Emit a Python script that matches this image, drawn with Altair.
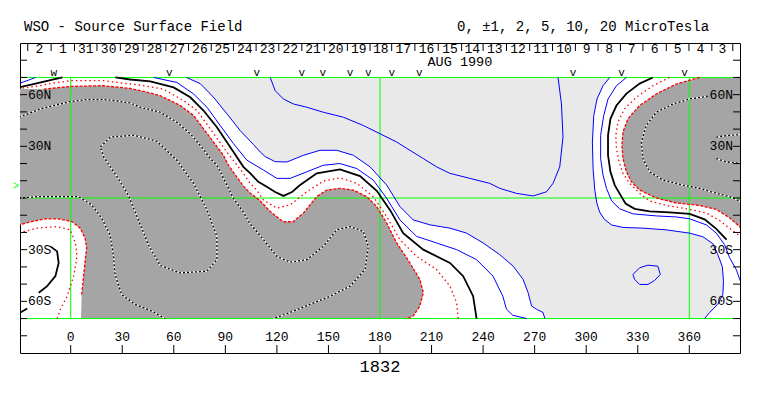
import altair as alt
import pandas as pd

# ---------------- text / axis data ----------------
TITLE_LEFT = "WSO - Source Surface Field"
TITLE_RIGHT = "0, \u00b11, 2, 5, 10, 20 MicroTesla"
ROTATION = "1832"
MONTH_LABEL = "AUG 1990"
MONTH_LON = 226.5

LON_TICKS = [0, 30, 60, 90, 120, 150, 180, 210, 240, 270, 300, 330, 360]
LAT_TICKS = [-80, -70, -60, -50, -40, -30, -20, -10, 0, 10, 20, 30, 40, 50, 60, 70, 80]
LAT_LABEL_VALUES = [60, 30, -30, -60]
LAT_LABEL_TEXT = ["60N", "30N", "30S", "60S"]
GREEN_LATS = [70, 0, -70]
GREEN_LONS = [0, 180, 360]
B0_LAT = 6.9

DAY_TICKS = [-25.0, -11.4, 2.2, 15.3, 28.9, 42.1, 55.4, 68.6, 81.8, 94.7, 107.9, 121.1,
             134.5, 147.6, 161.0, 174.2, 186.8, 200.3, 213.9, 227.5, 240.0, 253.6, 267.1,
             280.4, 293.7, 306.9, 319.9, 333.0, 346.6, 359.8, 373.1, 385.3]
DAY_LABELS = ["2", "1", "31", "30", "29", "28", "27", "26", "25", "24", "23", "22", "21",
              "20", "19", "18", "17", "16", "15", "14", "13", "12", "11", "10", "9", "8",
              "7", "6", "5", "4", "3"]
OBS_LONS = [-9.9, 57.4, 108.3, 134.5, 146.7, 162.6, 173.2, 186.8, 202.8, 292.3, 320.5, 357.3]
OBS_TEXT = ["w", "v", "v", "v", "v", "v", "v", "v", "v", "v", "v", "v"]

# ---------------- contour data (lon, lat) ----------------
GRAYA_TOP = [(-30, 63.5), (-15.7, 63.2), (-0.2, 64.8), (19.0, 65.2), (34.7, 63.6), (43.4, 61.7),
             (52.1, 59.4), (63.8, 53.7), (71.5, 47.9), (77.3, 40.2), (83.1, 32.5), (88.9, 24.8),
             (91.8, 19.0), (96.3, 12.7), (100.5, 6.9), (104.4, 2.9), (110.3, -1.7), (116.1, -7.8),
             (123.6, -13.8), (129.4, -13.8), (135.4, -8.8), (143.2, 0.8), (149.0, 4.6), (156.7, 5.6),
             (164.5, 4.6), (172.3, 0.8), (178.1, -5.0), (183.9, -14.6), (189.7, -26.1), (197.4, -37.7),
             (203.2, -47.3), (205.2, -55.0), (203.2, -62.7), (199.3, -68.5), (195.5, -70)]
GRAYA_BUBBLE = [(6.0, -70), (6.4, -56.0), (7.4, -46.3), (8.4, -36.8), (9.3, -29.0), (8.4, -23.3),
                (5.5, -17.5), (0.6, -13.7), (-7.1, -12.1), (-14.9, -12.1), (-22.7, -13.7), (-30, -15.6)]
GRAYB_EDGE = [(366.0, 70), (352.4, 66.2), (340.8, 60.4), (331.1, 53.7), (324.3, 46.0), (321.4, 38.3),
              (320.8, 30.6), (321.4, 22.9), (323.4, 15.2), (326.3, 9.4), (331.1, 4.6), (340.8, 0.0),
              (352.4, -2.9), (366.0, -4.3), (375.7, -6.6), (383.4, -11.5), (390, -17.3)]
GRAYB_CORNER = [(390, 70)]

OUTER_BLUE_MAIN = [(67.3, 70), (75.4, 66.4), (83.1, 58.5), (90.9, 48.9), (98.6, 39.2), (106.4, 31.0),
                   (110.3, 26.7), (113.2, 24.0), (119.0, 21.1), (125.8, 20.9), (135.4, 24.8),
                   (145.1, 27.7), (154.8, 27.7), (164.5, 24.8), (174.2, 18.1), (183.9, 7.5),
                   (191.6, -5.0), (199.3, -12.7), (209.1, -15.6), (220.7, -17.5), (230.4, -20.4),
                   (240.0, -26.1), (249.7, -32.9), (257.5, -39.6), (263.3, -47.3), (266.2, -55.0),
                   (268.2, -62.7), (271.1, -64.6), (274.9, -66.5), (275.9, -70)]
OUTER_BLUE_RIGHT = [(313.7, 70), (309.8, 65.2), (306.3, 57.5), (304.4, 47.9), (303.6, 32.5),
                    (304.0, 17.1), (305.0, 4.6), (306.2, -2.9), (307.8, -8.1), (310.4, -12.1),
                    (314.6, -15.6), (321.4, -17.1), (333.0, -17.5), (346.6, -18.5), (360.2, -20.4),
                    (367.9, -22.5), (373.7, -26.5), (376.6, -32.9), (379.2, -39.8), (379.9, -48.5),
                    (379.5, -56.0), (376.6, -61.7), (371.8, -66.5), (368.9, -70)]
INNER_BLUE_MAIN = [(48.2, 70), (61.8, 67.1), (71.5, 60.4), (79.3, 52.7), (87.0, 42.1), (94.7, 31.6),
                   (102.5, 22.0), (112.2, 16.2), (120.0, 11.4), (127.7, 11.4), (137.4, 15.2),
                   (147.0, 19.0), (156.7, 20.0), (166.5, 17.1), (176.1, 10.4), (183.9, -0.2),
                   (191.6, -12.7), (201.3, -22.3), (212.9, -26.1), (224.6, -30.0), (236.2, -35.8),
                   (245.8, -45.4), (251.5, -57.1), (253.6, -64.6), (257.3, -68.1), (265.4, -70)]
INNER_BLUE_RIGHT = [(323.4, 70), (317.6, 65.2), (312.7, 57.5), (310.2, 47.9), (308.4, 36.4),
                    (308.4, 22.9), (309.8, 13.3), (311.8, 5.6), (314.8, -1.7), (319.5, -6.3),
                    (327.2, -9.2), (340.8, -10.4), (352.4, -11.0), (360.2, -12.1), (369.9, -15.6),
                    (375.7, -20.4), (380.5, -27.1), (383.4, -34.6), (387.3, -41.5), (390, -49)]
INNER_BLUE_CORNER = [(-30, 66.6), (-24.6, 68.4), (-20.5, 70)]
BLUE5_MAIN = [(116.1, 70), (119.0, 62.3), (123.8, 57.5), (129.6, 54.6), (137.4, 52.7), (147.0, 49.8),
              (158.7, 46.9), (170.3, 42.1), (180.0, 37.3), (189.7, 32.5), (197.4, 27.7), (205.2, 22.9),
              (212.9, 18.1), (220.7, 14.3), (232.3, 11.4), (243.9, 8.5), (249.7, 5.6), (259.4, 2.7),
              (269.1, 1.2), (276.9, 3.6), (280.7, 8.5), (284.6, 18.1), (286.5, 35.4), (285.6, 54.6),
              (283.6, 70)]
BLUE5_LOOP = [(327.2, -44.4), (331.1, -40.5), (335.9, -39.0), (341.7, -39.6), (343.1, -44.4),
              (339.8, -47.9), (335.9, -50.2), (331.1, -50.2), (328.2, -47.3), (327.2, -44.4)]

BLACK_MAIN = [(26.0, 70), (34.7, 68.8), (46.3, 67.7), (59.9, 64.2), (69.6, 58.5), (77.3, 50.8),
              (85.1, 41.1), (92.8, 29.6), (100.5, 18.1), (104.4, 14.5), (109.2, 9.4), (114.1, 6.5),
              (119.0, 3.5), (123.8, 1.2), (128.8, 3.5), (133.5, 7.5), (143.2, 14.3), (156.7, 16.6),
              (168.4, 12.7), (178.1, 4.2), (185.8, -6.9), (193.5, -20.4), (205.2, -30.0),
              (220.7, -37.7), (228.4, -45.4), (234.2, -57.0), (236.2, -70)]
BLACK_CORNER_TOP = [(-30, 64.3), (-20.5, 66.4), (-11.8, 68.4), (-4.8, 70)]
BLACK_RIGHT = [(338.8, 70), (331.1, 66.4), (323.4, 60.6), (317.6, 53.7), (314.1, 46.0), (312.7, 36.4),
               (312.7, 24.8), (314.1, 15.2), (316.6, 7.5), (320.5, 0.8), (322.9, -3.2), (328.2, -6.3),
               (336.9, -7.8), (348.5, -8.4), (360.2, -9.2), (368.9, -12.4), (375.7, -17.9),
               (381.7, -24.2)]
BLACK_BUBBLE = [(-11.8, -28.1), (-7.9, -31.0), (-7.0, -37.7), (-8.9, -45.4), (-13.7, -51.2),
                (-18.6, -55.0)]
BLACK_CORNER_BOTTOM = [(-30, -66.9), (-25.3, -64.2)]

DOTTED_MAIN = [(-28.1, 63.9), (-18.6, 65.1), (-9.9, 66.8), (-0.2, 68.1), (19.2, 68.1), (34.7, 66.2),
               (40.5, 65.5), (54.0, 63.2), (65.7, 56.5), (73.5, 50.8), (81.2, 40.2), (90.9, 26.7),
               (100.5, 14.3), (104.4, 8.5), (108.3, 4.6), (112.2, -1.2), (120.0, -5.9),
               (127.7, -4.0), (137.4, 3.6), (147.0, 9.8), (156.7, 11.7), (166.5, 8.5), (176.1, 0.8),
               (183.9, -10.8), (191.6, -24.2), (201.3, -33.9), (212.9, -41.5), (220.7, -51.2),
               (224.6, -60.8), (225.5, -70)]
DOTTED_RIGHT = [(348.5, 70), (338.8, 65.2), (329.2, 58.5), (322.4, 51.9), (318.5, 44.1), (317.2, 36.4),
                (317.6, 28.7), (319.1, 21.0), (321.4, 14.3), (325.3, 8.5), (331.1, 2.7), (336.9, -1.7),
                (346.6, -4.3), (360.2, -6.6), (369.9, -8.7), (377.6, -13.0), (383.4, -17.6),
                (390, -22.5)]
DOTTED_BUBBLE = [(-30, -20.2), (-19.5, -17.5), (-7.9, -16.6), (-0.2, -18.5), (2.7, -26.1),
                 (3.7, -33.9), (1.7, -45.4), (-2.1, -57.0), (-6.0, -64.6), (-7.9, -70)]

NEG5_MAIN = [(-30, 46.9), (-17.6, 51.8), (-9.9, 53.7), (-0.2, 56.0), (9.5, 57.1), (21.2, 57.1),
             (34.7, 55.2), (40.5, 52.7), (52.1, 49.8), (61.8, 44.0), (69.6, 37.3), (75.4, 30.6),
             (81.2, 22.9), (85.1, 19.0), (89.5, 10.4), (94.6, 0.0), (100.4, -8.1), (104.4, -15.0),
             (112.2, -24.2), (120.0, -33.9), (127.7, -37.3), (137.4, -35.8), (147.0, -28.1),
             (154.8, -18.5), (162.6, -16.6), (170.3, -19.4), (173.2, -28.1), (171.3, -41.5),
             (162.6, -51.2), (151.0, -57.0), (139.3, -61.7), (127.7, -66.5), (118.0, -70)]
NEG5_LOWER = [(-30, -0.2), (-18.8, 0.8), (-5.2, 0.8), (4.5, 0.8), (12.2, -4.0), (18.0, -11.7),
              (22.9, -21.4), (24.8, -32.9), (25.8, -44.4), (29.6, -56.0), (37.4, -61.7),
              (47.1, -65.6), (54.9, -70)]
NEG10_LOOP = [(17.3, 29.6), (23.1, 35.4), (36.6, 36.4), (50.2, 32.9), (61.8, 21.9), (71.5, 8.5),
              (79.3, -6.9), (85.1, -22.3), (85.1, -35.8), (79.3, -42.5), (63.8, -43.5), (52.1, -39.2),
              (45.2, -27.1), (41.3, -17.5), (37.4, -7.9), (33.5, 1.7), (27.0, 12.3), (19.2, 23.8),
              (17.3, 29.6)]
NEG5_RIGHT = [(370.8, 59.1), (360.2, 57.5), (350.5, 54.6), (340.8, 49.8), (335.0, 42.1), (332.1, 32.5),
              (333.0, 22.9), (336.9, 15.2), (344.6, 10.4), (356.3, 7.5), (366.0, 5.6), (375.7, 2.7),
              (383.4, 0.8), (390, -2.1)]
NEG10_RIGHT_UP = [(375.7, 35.4), (383.4, 36.4), (390, 36.8)]
NEG10_RIGHT_LO = [(375.7, 22.9), (381.5, 21.0), (390, 20.0)]

# ---------------- helpers ----------------
FONT = "Liberation Mono"
XS = alt.Scale(domain=[-29.5, 389.5], nice=False, zero=False)
YS = alt.Scale(domain=[-90, 90], nice=False, zero=False)
X = alt.X("lon:Q", scale=XS, axis=None)
Y = alt.Y("lat:Q", scale=YS, axis=None)


def frame(named):
    rows = []
    for name, pts in named.items():
        for i, (lon, lat) in enumerate(pts):
            rows.append({"id": name, "i": i, "lon": lon, "lat": lat})
    return pd.DataFrame(rows)


def polys(named, color):
    return alt.Chart(frame(named)).mark_line(
        filled=True, color=color, clip=True, strokeWidth=0
    ).encode(x=X, y=Y, detail="id:N", order="i:Q")


def lines(named, color, width=1.0, dash=None):
    kw = dict(color=color, strokeWidth=width, clip=True)
    if dash:
        kw["strokeDash"] = dash
    return alt.Chart(frame(named)).mark_line(**kw).encode(
        x=X, y=Y, detail="id:N", order="i:Q")


LIGHT = "#e9e9e9"
DARK = "#a5a5a5"
BLUE = "#0000ff"
RED = "#ff0000"
GREEN = "#00ff00"

light_poly = polys({"c": OUTER_BLUE_RIGHT + OUTER_BLUE_MAIN[::-1]}, LIGHT)
dark_poly = polys({"a": GRAYA_TOP + GRAYA_BUBBLE, "b": GRAYB_EDGE + GRAYB_CORNER}, DARK)

green_h = alt.Chart(pd.DataFrame({"lat": GREEN_LATS})).mark_rule(
    color=GREEN, strokeWidth=1).encode(y=Y, x=alt.value(0), x2=alt.value(720))
green_v = alt.Chart(pd.DataFrame({"lon": GREEN_LONS, "lat": [70] * 3, "lat2": [-70] * 3})).mark_rule(
    color=GREEN, strokeWidth=1).encode(x=X, y=Y, y2="lat2:Q")

blue_lines = lines({"o1": OUTER_BLUE_MAIN, "o2": OUTER_BLUE_RIGHT, "i1": INNER_BLUE_MAIN,
                    "i2": INNER_BLUE_RIGHT, "i3": INNER_BLUE_CORNER, "f1": BLUE5_MAIN,
                    "f2": BLUE5_LOOP}, BLUE, 1.0)
black_lines = lines({"b1": BLACK_MAIN, "b2": BLACK_CORNER_TOP, "b3": BLACK_RIGHT,
                     "b4": BLACK_BUBBLE, "b5": BLACK_CORNER_BOTTOM}, "black", 1.8)
dotted_lines = lines({"d1": DOTTED_MAIN, "d2": DOTTED_RIGHT, "d3": DOTTED_BUBBLE}, RED, 1.3, [1.5, 3])
edge_lines = lines({"e1": GRAYA_TOP[1:], "e2": GRAYA_BUBBLE[1:], "e3": GRAYB_EDGE}, RED, 1.3, [3, 1.5])
neg_named = {"n1": NEG5_MAIN, "n2": NEG5_LOWER, "n3": NEG10_LOOP, "n4": NEG5_RIGHT,
             "n5": NEG10_RIGHT_UP, "n6": NEG10_RIGHT_LO}
neg_white = lines(neg_named, "white", 1.3)
neg_black = lines(neg_named, "black", 1.3, [2, 2])

# axis ticks and labels
lat_df = pd.DataFrame({"lat": LAT_TICKS})
lat_ticks_l = alt.Chart(lat_df).mark_rule(color="black").encode(y=Y, x=alt.value(0), x2=alt.value(7))
lat_ticks_r = alt.Chart(lat_df).mark_rule(color="black").encode(y=Y, x=alt.value(713), x2=alt.value(720))
lab_df = pd.DataFrame({"lat": LAT_LABEL_VALUES, "t": LAT_LABEL_TEXT})
lat_lab_l = alt.Chart(lab_df).mark_text(font=FONT, fontSize=13, align="left", baseline="middle",
                                        color="black").encode(y=Y, x=alt.value(8), text="t:N")
lat_lab_r = alt.Chart(lab_df).mark_text(font=FONT, fontSize=13, align="right", baseline="middle",
                                        color="black").encode(y=Y, x=alt.value(713), text="t:N")

lon_df = pd.DataFrame({"lon": LON_TICKS, "t": [str(v) for v in LON_TICKS]})
lon_ticks = alt.Chart(lon_df).mark_rule(color="black").encode(x=X, y=alt.value(302), y2=alt.value(310))
lon_labs = alt.Chart(lon_df).mark_text(font=FONT, fontSize=13, baseline="middle",
                                       color="black").encode(x=X, y=alt.value(294), text="t:N")

day_tick_df = pd.DataFrame({"lon": DAY_TICKS})
day_ticks = alt.Chart(day_tick_df).mark_rule(color="black").encode(x=X, y=alt.value(1), y2=alt.value(8))
day_mid = [(a + b) / 2 for a, b in zip(DAY_TICKS[:-1], DAY_TICKS[1:])]
day_lab_df = pd.DataFrame({"lon": day_mid, "t": DAY_LABELS})
day_labs = alt.Chart(day_lab_df).mark_text(font=FONT, fontSize=13, baseline="middle",
                                           color="black").encode(x=X, y=alt.value(5.5), text="t:N")
month = alt.Chart(pd.DataFrame({"lon": [MONTH_LON], "t": [MONTH_LABEL]})).mark_text(
    font=FONT, fontSize=13.5, baseline="middle", color="black").encode(x=X, y=alt.value(19), text="t:N")
obs = alt.Chart(pd.DataFrame({"lon": OBS_LONS, "t": OBS_TEXT})).mark_text(
    font=FONT, fontSize=11, baseline="middle", color="black").encode(x=X, y=alt.value(29.5), text="t:N")
b0 = alt.Chart(pd.DataFrame({"lat": [B0_LAT], "t": [">"]})).mark_text(
    font=FONT, fontSize=10, baseline="middle", align="center", color=GREEN).encode(
    y=Y, x=alt.value(-4), text="t:N")

title_l = alt.Chart(pd.DataFrame({"t": [TITLE_LEFT]})).mark_text(
    font=FONT, fontSize=14, align="left", baseline="middle", color="black").encode(
    x=alt.value(4), y=alt.value(-16), text="t:N")
title_r = alt.Chart(pd.DataFrame({"t": [TITLE_RIGHT]})).mark_text(
    font=FONT, fontSize=14, align="left", baseline="middle", color="black").encode(
    x=alt.value(437), y=alt.value(-16), text="t:N")
rot = alt.Chart(pd.DataFrame({"lon": [180], "t": [ROTATION]})).mark_text(
    font=FONT, fontSize=17, baseline="middle", color="black").encode(x=X, y=alt.value(324), text="t:N")

chart = alt.layer(
    light_poly, dark_poly, green_h, green_v,
    blue_lines, black_lines, dotted_lines, edge_lines, neg_white, neg_black,
    lat_ticks_l, lat_ticks_r, lat_lab_l, lat_lab_r, lon_ticks, lon_labs,
    day_ticks, day_labs, month, obs, b0, title_l, title_r, rot,
).properties(
    width=720, height=310,
    autosize=alt.AutoSizeParams(type="none"),
    padding={"left": 12, "top": 35, "right": 15, "bottom": 30},
    background="white",
).configure_view(stroke="black", strokeWidth=1)

chart.save("out.html", embed_options={"renderer": "svg", "actions": False})
